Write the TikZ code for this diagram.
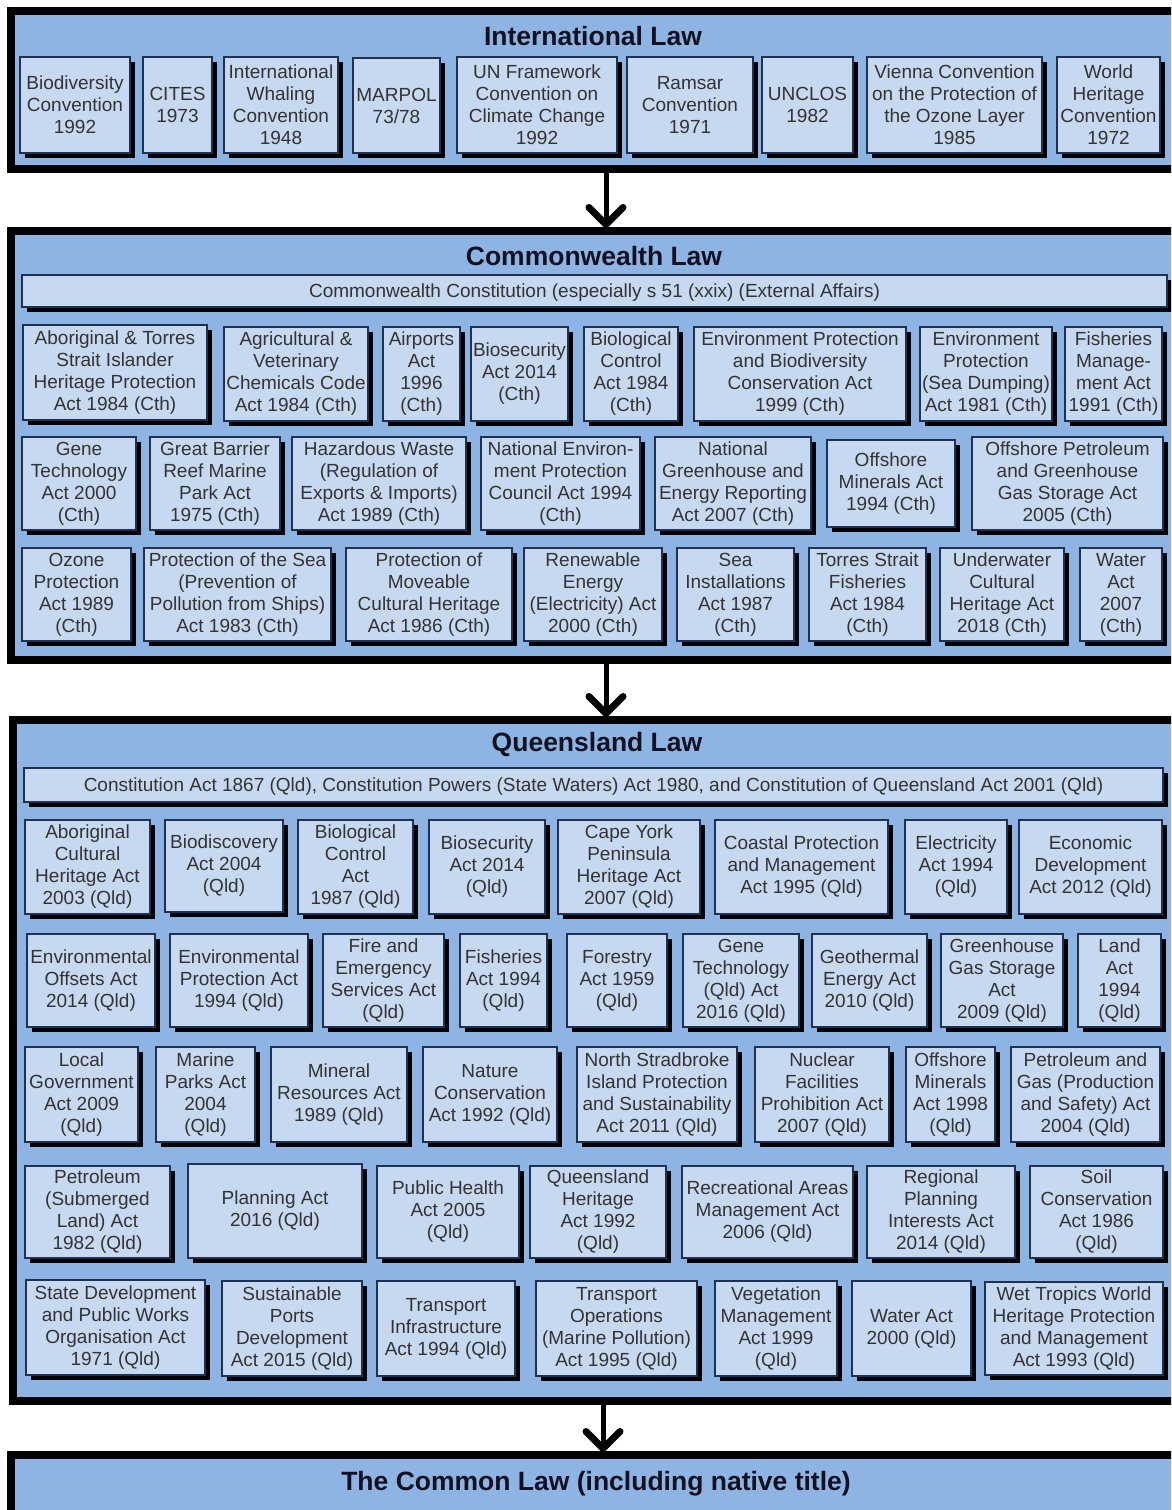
\documentclass[tikz,border=0pt]{standalone}
\usepackage{fontspec}
\setmainfont{Liberation Sans}
\usetikzlibrary{shadows,arrows.meta,calc}
\definecolor{panelblue}{HTML}{8EB4E3}
\definecolor{boxblue}{HTML}{C6D9F1}
\definecolor{boxline}{HTML}{1F3050}
\definecolor{boxtext}{HTML}{333333}
\definecolor{titletext}{HTML}{111122}
\tikzset{
  panel/.style={draw=black, line width=8pt, fill=panelblue, rectangle, inner sep=0pt, outer sep=0pt, anchor=north west},
  lawbox/.style={draw=boxline, line width=1.2pt, fill=boxblue, rectangle, inner sep=2pt, outer sep=0pt,
    align=center, text=boxtext, font=\fontsize{19}{22}\selectfont,
    drop shadow={shadow xshift=5pt, shadow yshift=-5pt, fill=black, opacity=1}},
  barbox/.style={lawbox, text depth=0pt},
  paneltitle/.style={font=\bfseries\fontsize{26.5}{30}\selectfont, text=titletext, inner sep=0pt},
  flowarrow/.style={line width=5pt, -{Straight Barb[length=17pt, width=34pt, line width=7pt 0, round]}},
}
\newcommand\lawbox[6]{\node[lawbox, minimum width={#4-#2}, minimum height={#5-#3}] (#1) at ({(#2+#4)/2},{(#3+#5)/2}) {#6};}
\newcommand\barbox[6]{\node[barbox, minimum width={#4-#2}, minimum height={#5-#3}] (#1) at ({(#2+#4)/2},{(#3+#5)/2}) {#6};}
\begin{document}
\begin{tikzpicture}[x=1pt, y=-1pt]
\fill[white] (0,0) rectangle (1171,1510);
\useasboundingbox (0,0) rectangle (1171,1510);
\clip (0,0) rectangle (1171,1510);

% ---------- panels ----------
\node[panel, minimum width=1174, minimum height=158] (intl) at (11,11) {};
\node[panel, minimum width=1174, minimum height=429] (cth) at (11,231) {};
\node[panel, minimum width=1172, minimum height=681] (qld) at (13,720) {};
\node[panel, minimum width=1174, minimum height=100] (cl) at (11,1455) {};

\node[paneltitle] (intlT) at (593,36) {International Law};
\node[paneltitle] (cthT) at (594,256) {Commonwealth Law};
\node[paneltitle] (qldT) at (597,744) {Queensland Law};
\node[paneltitle] (clT) at (596,1484) {The Common Law (including native title)};

% ---------- arrows ----------
\coordinate (ax1) at (606,0);
\coordinate (ax3) at (603,0);
\draw[flowarrow] (ax1 |- intl.south) -- ([yshift=3pt]ax1 |- cth.north);
\draw[flowarrow] (ax1 |- cth.south) -- ([yshift=3pt]ax1 |- qld.north);
\draw[flowarrow] (ax3 |- qld.south) -- ([yshift=3pt]ax3 |- cl.north);

% ---------- International ----------
\lawbox{i1}{20}{57}{130}{153}{Biodiversity\\Convention\\1992}
\lawbox{i2}{143}{57}{212}{153}{CITES\\1973}
\lawbox{i3}{224}{57}{338}{153}{International\\Whaling\\Convention\\1948}
\lawbox{i4}{353}{58}{440}{153}{MARPOL\\73/78}
\lawbox{i5}{457}{57}{617}{153}{UN Framework\\Convention on\\Climate Change\\1992}
\lawbox{i6}{627}{57}{753}{153}{Ramsar\\Convention\\1971}
\lawbox{i7}{762}{57}{853}{153}{UNCLOS\\1982}
\lawbox{i8}{867}{57}{1042}{153}{Vienna Convention\\on the Protection of\\the Ozone Layer\\1985}
\lawbox{i9}{1057}{57}{1160}{153}{World\\Heritage\\Convention\\1972}

% ---------- Commonwealth ----------
\barbox{cc}{22}{275}{1167}{307}{Commonwealth Constitution (especially s 51 (xxix) (External Affairs)}
\lawbox{c1}{23}{325}{207}{420}{Aboriginal \& Torres\\Strait Islander\\Heritage Protection\\Act 1984 (Cth)}
\lawbox{c2}{224}{327}{368}{421}{Agricultural \&\\Veterinary\\Chemicals Code\\Act 1984 (Cth)}
\lawbox{c3}{383}{327}{460}{421}{Airports\\Act\\1996\\(Cth)}
\lawbox{c4}{471}{327}{568}{421}{Biosecurity\\Act 2014\\(Cth)}
\lawbox{c5}{584}{327}{678}{421}{Biological\\Control\\Act 1984\\(Cth)}
\lawbox{c6}{694}{327}{906}{421}{Environment Protection\\and Biodiversity\\Conservation Act\\1999 (Cth)}
\lawbox{c7}{920}{327}{1052}{421}{Environment\\Protection\\(Sea Dumping)\\Act 1981 (Cth)}
\lawbox{c8}{1065}{327}{1162}{421}{Fisheries\\Manage-\\ment Act\\1991 (Cth)}

\lawbox{c9}{22}{437}{136}{530}{Gene\\Technology\\Act 2000\\(Cth)}
\lawbox{c10}{150}{437}{280}{530}{Great Barrier\\Reef Marine\\Park Act\\1975 (Cth)}
\lawbox{c11}{292}{437}{466}{530}{Hazardous Waste\\(Regulation of\\Exports \& Imports)\\Act 1989 (Cth)}
\lawbox{c12}{481}{437}{640}{530}{National Environ-\\ment Protection\\Council Act 1994\\(Cth)}
\lawbox{c13}{655}{437}{811}{530}{National\\Greenhouse and\\Energy Reporting\\Act 2007 (Cth)}
\lawbox{c14}{827}{440}{955}{527}{Offshore\\Minerals Act\\1994 (Cth)}
\lawbox{c15}{972}{437}{1163}{530}{Offshore Petroleum\\and Greenhouse\\Gas Storage Act\\2005 (Cth)}

\lawbox{c16}{22}{548}{131}{641}{Ozone\\Protection\\Act 1989\\(Cth)}
\lawbox{c17}{144}{548}{331}{641}{Protection of the Sea\\(Prevention of\\Pollution from Ships)\\Act 1983 (Cth)}
\lawbox{c18}{346}{548}{512}{641}{Protection of\\Moveable\\Cultural Heritage\\Act 1986 (Cth)}
\lawbox{c19}{524}{548}{662}{641}{Renewable\\Energy\\(Electricity) Act\\2000 (Cth)}
\lawbox{c20}{677}{548}{794}{641}{Sea\\Installations\\Act 1987\\(Cth)}
\lawbox{c21}{809}{548}{926}{641}{Torres Strait\\Fisheries\\Act 1984\\(Cth)}
\lawbox{c22}{940}{548}{1064}{641}{Underwater\\Cultural\\Heritage Act\\2018 (Cth)}
\lawbox{c23}{1080}{548}{1162}{641}{Water\\Act\\2007\\(Cth)}

% ---------- Queensland ----------
\barbox{qc}{24}{768}{1163}{802}{Constitution Act 1867 (Qld), Constitution Powers (State Waters) Act 1980, and Constitution of Queensland Act 2001 (Qld)}
\lawbox{q1}{25}{820}{150}{914}{Aboriginal\\Cultural\\Heritage Act\\2003 (Qld)}
\lawbox{q2}{165}{820}{283}{912}{Biodiscovery\\Act 2004\\(Qld)}
\lawbox{q3}{298}{820}{413}{914}{Biological\\Control\\Act\\1987 (Qld)}
\lawbox{q4}{429}{820}{545}{914}{Biosecurity\\Act 2014\\(Qld)}
\lawbox{q5}{558}{820}{700}{914}{Cape York\\Peninsula\\Heritage Act\\2007 (Qld)}
\lawbox{q6}{715}{820}{888}{914}{Coastal Protection\\and Management\\Act 1995 (Qld)}
\lawbox{q7}{905}{820}{1007}{914}{Electricity\\Act 1994\\(Qld)}
\lawbox{q8}{1019}{820}{1162}{914}{Economic\\Development\\Act 2012 (Qld)}

\lawbox{q9}{27}{934}{155}{1027}{Environmental\\Offsets Act\\2014 (Qld)}
\lawbox{q10}{170}{934}{308}{1027}{Environmental\\Protection Act\\1994 (Qld)}
\lawbox{q11}{323}{934}{444}{1027}{Fire and\\Emergency\\Services Act\\(Qld)}
\lawbox{q12}{460}{934}{547}{1027}{Fisheries\\Act 1994\\(Qld)}
\lawbox{q13}{567}{934}{667}{1027}{Forestry\\Act 1959\\(Qld)}
\lawbox{q14}{683}{934}{799}{1027}{Gene\\Technology\\(Qld) Act\\2016 (Qld)}
\lawbox{q15}{812}{934}{927}{1027}{Geothermal\\Energy Act\\2010 (Qld)}
\lawbox{q16}{941}{934}{1063}{1027}{Greenhouse\\Gas Storage\\Act\\2009 (Qld)}
\lawbox{q17}{1078}{934}{1161}{1027}{Land\\Act\\1994\\(Qld)}

\lawbox{q18}{25}{1047}{138}{1142}{Local\\Government\\Act 2009\\(Qld)}
\lawbox{q19}{156}{1047}{255}{1142}{Marine\\Parks Act\\2004\\(Qld)}
\lawbox{q20}{271}{1047}{407}{1142}{Mineral\\Resources Act\\1989 (Qld)}
\lawbox{q21}{423}{1047}{557}{1142}{Nature\\Conservation\\Act 1992 (Qld)}
\lawbox{q22}{577}{1047}{737}{1142}{North Stradbroke\\Island Protection\\and Sustainability\\Act 2011 (Qld)}
\lawbox{q23}{755}{1047}{889}{1142}{Nuclear\\Facilities\\Prohibition Act\\2007 (Qld)}
\lawbox{q24}{906}{1047}{995}{1142}{Offshore\\Minerals\\Act 1998\\(Qld)}
\lawbox{q25}{1011}{1047}{1160}{1142}{Petroleum and\\Gas (Production\\and Safety) Act\\2004 (Qld)}

\lawbox{q26}{25}{1166}{170}{1258}{Petroleum\\(Submerged\\Land) Act\\1982 (Qld)}
\lawbox{q27}{188}{1164}{362}{1258}{Planning Act\\2016 (Qld)}
\lawbox{q28}{377}{1166}{519}{1258}{Public Health\\Act 2005\\(Qld)}
\lawbox{q29}{530}{1166}{666}{1258}{Queensland\\Heritage\\Act 1992\\(Qld)}
\lawbox{q30}{682}{1166}{853}{1258}{Recreational Areas\\Management Act\\2006 (Qld)}
\lawbox{q31}{867}{1166}{1015}{1258}{Regional\\Planning\\Interests Act\\2014 (Qld)}
\lawbox{q32}{1030}{1166}{1163}{1258}{Soil\\Conservation\\Act 1986\\(Qld)}

\lawbox{q33}{26}{1280}{205}{1375}{State Development\\and Public Works\\Organisation Act\\1971 (Qld)}
\lawbox{q34}{222}{1281}{362}{1376}{Sustainable\\Ports\\Development\\Act 2015 (Qld)}
\lawbox{q35}{377}{1281}{515}{1376}{Transport\\Infrastructure\\Act 1994 (Qld)}
\lawbox{q36}{536}{1281}{697}{1376}{Transport\\Operations\\(Marine Pollution)\\Act 1995 (Qld)}
\lawbox{q37}{715}{1281}{837}{1376}{Vegetation\\Management\\Act 1999\\(Qld)}
\lawbox{q38}{852}{1281}{971}{1376}{Water Act\\2000 (Qld)}
\lawbox{q39}{985}{1282}{1163}{1375}{Wet Tropics World\\Heritage Protection\\and Management\\Act 1993 (Qld)}
\end{tikzpicture}
\end{document}
